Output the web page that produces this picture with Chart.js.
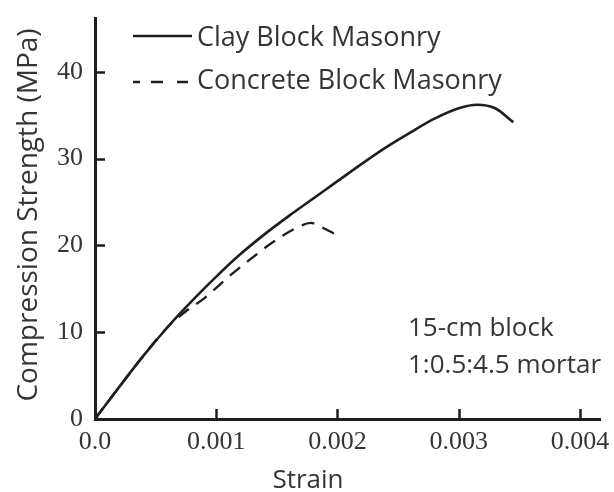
<!DOCTYPE html>
<html>
<head>
<meta charset="utf-8">
<script src="https://cdn.jsdelivr.net/npm/chart.js@4.4.0/dist/chart.umd.min.js"></script>
<style>
  html, body { margin: 0; padding: 0; background: #fff; }
  #wrap { width: 614px; height: 492px; }
</style>
</head>
<body>
<div id="wrap"><canvas id="myChart" width="614" height="492"></canvas></div>
<script>
// values
var clayStrain = [0, 0.0002, 0.0004, 0.0006, 0.0008, 0.0010, 0.0012, 0.0014, 0.0016, 0.0018, 0.0020, 0.0022, 0.0024, 0.0026, 0.0028, 0.0030, 0.00315, 0.0033, 0.00345]
var clayStress = [0, 3.7, 7.3, 10.6, 13.6, 16.4, 19.0, 21.3, 23.4, 25.4, 27.4, 29.4, 31.3, 33.0, 34.6, 35.8, 36.2, 35.8, 34.2]

var concStrain = [0, 0.0002, 0.0004, 0.0006, 0.00074, 0.0009, 0.00112, 0.00129, 0.00146, 0.00166, 0.00178, 0.00187, 0.00198]
var concStress = [0, 3.7, 7.3, 10.6, 12.3, 13.9, 16.6, 18.5, 20.3, 22.0, 22.6, 22.1, 21.3]

var seriesNames = ['Clay Block Masonry', 'Concrete Block Masonry']

var xTicks = [0, 0.001, 0.002, 0.003, 0.004]
var xTickLabels = ['0.0', '0.001', '0.002', '0.003', '0.004']
var yTicks = [0, 10, 20, 30, 40]
var yTickLabels = ['0', '10', '20', '30', '40']

var xTitle = 'Strain'
var yTitle = 'Compression Strength (MPa)'
var noteLines = ['15-cm block', '1:0.5:4.5 mortar']

var ink = '#1e1e1e'
var textCol = '#353535'
var sans = '"Open Sans", sans-serif'
var tickFont = { family: '"Liberation Serif", serif', size: 26 }

function pts(xs, ys) {
  return xs.map(function (x, i) { return { x: x, y: ys[i] } })
}

// inward tick marks, legend, titles and note
var decor = {
  id: 'decor',
  afterDraw: function (chart) {
    var ctx = chart.ctx
    var xs = chart.scales.x, ys = chart.scales.y
    var a = chart.chartArea
    ctx.save()
    ctx.strokeStyle = ink
    ctx.lineWidth = 2.5
    xTicks.forEach(function (v) {
      if (v === 0) return
      var px = Math.round(xs.getPixelForValue(v)) + 0.5
      ctx.beginPath(); ctx.moveTo(px, a.bottom); ctx.lineTo(px, a.bottom - 10); ctx.stroke()
    })
    yTicks.forEach(function (v) {
      if (v === 0) return
      var py = Math.round(ys.getPixelForValue(v)) + 0.5
      ctx.beginPath(); ctx.moveTo(a.left, py); ctx.lineTo(a.left + 10, py); ctx.stroke()
    })

    // legend
    ctx.beginPath(); ctx.moveTo(133, 36); ctx.lineTo(192, 36); ctx.stroke()
    ;[[133, 140], [151, 163], [177, 188]].forEach(function (d) {
      ctx.beginPath(); ctx.moveTo(d[0], 82); ctx.lineTo(d[1], 82); ctx.stroke()
    })
    ctx.fillStyle = textCol
    ctx.font = '27px ' + sans
    ctx.textAlign = 'left'
    ctx.textBaseline = 'alphabetic'
    ctx.fillText(chart.data.datasets[0].label, 197, 46)
    ctx.fillText(chart.data.datasets[1].label, 197, 89)

    // note
    ctx.font = '26px ' + sans
    ctx.fillText(noteLines[0], 408, 336)
    ctx.fillText(noteLines[1], 408, 373)

    // axis titles
    ctx.textAlign = 'center'
    ctx.fillText(xTitle, 308, 488)
    ctx.font = '28px ' + sans
    ctx.translate(37, 215)
    ctx.rotate(-Math.PI / 2)
    ctx.fillText(yTitle, 0, 0)
    ctx.restore()
  }
}

var ctx = document.getElementById('myChart').getContext('2d')
var chart = new Chart(ctx, {
  type: 'line',
  data: {
    datasets: [{
      label: seriesNames[0],
      data: pts(clayStrain, clayStress),
      borderColor: ink,
      borderWidth: 2.6,
      pointRadius: 0,
      cubicInterpolationMode: 'monotone',
      fill: false
    }, {
      label: seriesNames[1],
      data: pts(concStrain, concStress),
      borderColor: ink,
      borderWidth: 2.4,
      borderDash: [13, 9],
      pointRadius: 0,
      cubicInterpolationMode: 'monotone',
      fill: false
    }]
  },
  options: {
    responsive: false,
    animation: false,
    devicePixelRatio: 1,
    layout: { padding: { top: 18, right: 14, left: 0, bottom: 0 } },
    plugins: { legend: { display: false }, tooltip: { enabled: false } },
    scales: {
      x: {
        type: 'linear',
        min: 0,
        max: 0.004165,
        afterBuildTicks: function (s) { s.ticks = xTicks.map(function (v) { return { value: v } }) },
        afterFit: function (s) { s.height = 73; s.paddingLeft = 0; s.paddingRight = 0 },
        grid: { display: false, drawTicks: false },
        border: { display: true, color: ink, width: 3 },
        ticks: {
          padding: 8,
          maxRotation: 0,
          autoSkip: false,
          color: textCol,
          font: tickFont,
          callback: function (v, i) { return xTickLabels[i] }
        }
      },
      y: {
        type: 'linear',
        min: 0,
        max: 46.2,
        afterBuildTicks: function (s) { s.ticks = yTicks.map(function (v) { return { value: v } }) },
        afterFit: function (s) { s.width = 95; s.paddingTop = 0; s.paddingBottom = 0 },
        grid: { display: false, drawTicks: false },
        border: { display: true, color: ink, width: 3 },
        ticks: {
          padding: 12,
          autoSkip: false,
          color: textCol,
          font: tickFont,
          callback: function (v, i) { return yTickLabels[i] }
        }
      }
    }
  },
  plugins: [decor]
})
</script>
</body>
</html>
